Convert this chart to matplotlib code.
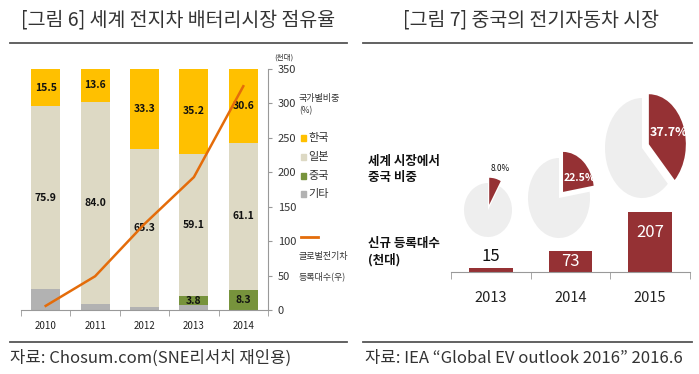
import numpy as np
import matplotlib.pyplot as plt

plt.rcParams['font.family'] = ['Noto Sans CJK KR', 'DejaVu Sans']

W, H = 699, 374

# ---- left chart data (점유율 %, 글로벌 전기차 등록대수 천대) ----
years_l = ['2010', '2011', '2012', '2013', '2014']
korea = [15.5, 13.6, 33.3, 35.2, 30.6]
japan = [75.9, 84.0, 65.3, 59.1, 61.1]
china = [0.0, 0.0, 0.0, 3.8, 8.3]
other = [8.6, 2.4, 1.4, 1.9, 0.0]
ev_reg = [6, 49, 125, 193, 325]

# ---- right chart data ----
years_r = ['2013', '2014', '2015']
china_share = [8.0, 22.5, 37.7]
new_reg = [15, 73, 207]

c_kor = '#FFC000'
c_jpn = '#DDD9C4'
c_chn = '#77933C'
c_oth = '#B2B2B2'
c_line = '#E46C0A'
c_red = '#953134'
c_pie = '#EEEEEE'


def px_axes(fig, x0, y0, x1, y1, **kw):
    return fig.add_axes([x0 / W, 1 - y1 / H, (x1 - x0) / W, (y1 - y0) / H], **kw)


fig = plt.figure(figsize=(W / 100, H / 100), dpi=100)

# titles, rules, sources
fig.text(178 / W, 1 - 20 / H, '[그림 6] 세계 전지차 배터리시장 점유율', ha='center', va='center',
         fontsize=14, color='#333333')
fig.text(531 / W, 1 - 20 / H, '[그림 7] 중국의 전기자동차 시장', ha='center', va='center',
         fontsize=14, color='#333333')
for xa, xb in [(10, 347), (363, 692)]:
    fig.add_artist(plt.Line2D([xa / W, xb / W], [1 - 43 / H] * 2, color='#555555', lw=1.3))
    fig.add_artist(plt.Line2D([xa / W, xb / W], [1 - 342 / H] * 2, color='#555555', lw=1.3))
fig.text(10 / W, 1 - 358 / H, '자료: Chosum.com(SNE리서치 재인용)', ha='left', va='center',
         fontsize=12, color='#333333')
fig.text(365 / W, 1 - 358 / H, '자료: IEA “Global EV outlook 2016” 2016.6', ha='left', va='center',
         fontsize=12, color='#333333')

# ---- left: stacked bars ----
ax = px_axes(fig, 21, 69, 268, 310)
x = np.arange(len(years_l))
bw = 0.59
bottom = np.zeros(len(x))
for vals, col in [(other, c_oth), (china, c_chn), (japan, c_jpn), (korea, c_kor)]:
    vals = np.array(vals)
    ax.bar(x, vals, bw, bottom=bottom, color=col, zorder=2)
    if col != c_oth:
        for i, v in enumerate(vals):
            if v > 0:
                ax.text(x[i], bottom[i] + v / 2, f'{v:.1f}', ha='center', va='center',
                        fontsize=7.5, fontweight='bold', color='#111111', zorder=3)
    bottom += vals
ax.set_xlim(-0.5, len(x) - 0.5)
ax.set_ylim(0, 100)
ax.set_yticks([])
for s in ['left', 'top', 'right']:
    ax.spines[s].set_visible(False)
ax.spines['bottom'].set_color('#999999')
ax.set_xticks(x)
ax.set_xticklabels(years_l, fontsize=7, color='#222222')
ax.tick_params(axis='x', length=0, pad=8)
ax.set_xticks(np.arange(-0.5, len(x)), minor=True)
ax.tick_params(axis='x', which='minor', length=4, color='#999999', direction='out')

ax2 = ax.twinx()
ax2.plot(x, ev_reg, color=c_line, lw=1.8, zorder=4)
ax2.set_ylim(0, 350)
ax2.set_yticks(np.arange(0, 351, 50))
ax2.tick_params(axis='y', labelsize=8, colors='#333333', length=3, pad=4)
ax2.tick_params(axis='y', color='#999999')
for s in ['left', 'top', 'bottom']:
    ax2.spines[s].set_visible(False)
ax2.spines['right'].set_color('#999999')
fig.text(284 / W, 1 - 58 / H, '(천대)', fontsize=5.5, ha='center', va='center', color='#333333')

# legend (manual)
fig.text(299 / W, 1 - 98 / H, '국가별비중', fontsize=6.5, va='center', color='#333333')
fig.text(299 / W, 1 - 111 / H, '(%)', fontsize=6, va='center', color='#333333')
for yy, lab, col in [(138, '한국', c_kor), (157, '일본', c_jpn), (176, '중국', c_chn), (194, '기타', c_oth)]:
    fig.patches.append(plt.Rectangle((301 / W, 1 - (yy + 3) / H), 5 / W, 6 / H, color=col,
                                     transform=fig.transFigure, figure=fig))
    fig.text(308 / W, 1 - yy / H, lab, fontsize=8, va='center', color='#333333')
fig.add_artist(plt.Line2D([301 / W, 318 / W], [1 - 237 / H] * 2, color=c_line, lw=2))
fig.text(299 / W, 1 - 257 / H, '글로벌전기차', fontsize=6.5, va='center', color='#333333')
fig.text(299 / W, 1 - 276 / H, '등록대수(우)', fontsize=6.5, va='center', color='#333333')

# ---- right: bars ----
axr = px_axes(fig, 451, 60, 690, 272)
xr = np.arange(len(years_r))
axr.bar(xr, new_reg, 0.55, color=c_red)
axr.set_xlim(-0.5, len(xr) - 0.5)
axr.set_ylim(0, 212 / 0.29)
axr.set_yticks([])
for s in ['left', 'top', 'right']:
    axr.spines[s].set_visible(False)
axr.spines['bottom'].set_color('#999999')
axr.set_xticks(xr)
axr.set_xticklabels(years_r, fontsize=10.5, color='#222222')
axr.tick_params(axis='x', length=0, pad=14)
axr.set_xticks(np.arange(-0.5, len(xr)), minor=True)
axr.tick_params(axis='x', which='minor', length=5, color='#999999')
axr.patch.set_alpha(0)
for i, v in enumerate(new_reg):
    if v < 30:
        axr.annotate(str(v), (xr[i], v), xytext=(0, 2), textcoords='offset points',
                     ha='center', va='bottom', fontsize=12, color='#111111')
    elif v < 100:
        axr.text(xr[i], v / 2, str(v), ha='center', va='center', fontsize=12, color='white')
    else:
        axr.annotate(str(v), (xr[i], v), xytext=(0, -15), textcoords='offset points',
                     ha='center', va='center', fontsize=12, color='white')

fig.text(368 / W, 1 - 162 / H, '세계 시장에서', fontsize=9, fontweight='bold', va='center', color='#111111')
fig.text(368 / W, 1 - 178 / H, '중국 비중', fontsize=9, fontweight='bold', va='center', color='#111111')
fig.text(368 / W, 1 - 243 / H, '신규 등록대수', fontsize=9, fontweight='bold', va='center', color='#111111')
fig.text(368 / W, 1 - 260 / H, '(천대)', fontsize=9, fontweight='bold', va='center', color='#111111')

# ---- right: pies (center x, center y, rx, ry in px) ----
pie_geo = [(488, 210, 24, 27), (559, 198, 31, 40), (642, 148, 37, 50)]
ex = 0.2
for k, (cx, cy, rx, ry) in enumerate(pie_geo):
    m = 1.4
    axp = px_axes(fig, cx - m * rx, cy - m * ry, cx + m * rx, cy + m * ry)
    sh = china_share[k]
    axp.pie([sh, 100 - sh], colors=[c_red, c_pie], startangle=90, counterclock=False,
            explode=[ex, 0], radius=1)
    axp.set_aspect('auto')
    axp.set_xlim(-m, m)
    axp.set_ylim(-m, m)
    axp.axis('off')
    if sh < 15:
        axp.text(0.5, 1.55, f'{sh:.1f}%', ha='center', va='center', fontsize=6,
                 color='#111111', clip_on=False)
    elif sh < 30:
        axp.text(0.65, 0.5, f'{sh:.1f}%', ha='center', va='center',
                 fontsize=7.5, fontweight='bold', color='white')
    else:
        axp.text(0.72, 0.3, f'{sh:.1f}%', ha='center', va='center',
                 fontsize=9, fontweight='bold', color='white')

fig.savefig('out.png', dpi=100)
